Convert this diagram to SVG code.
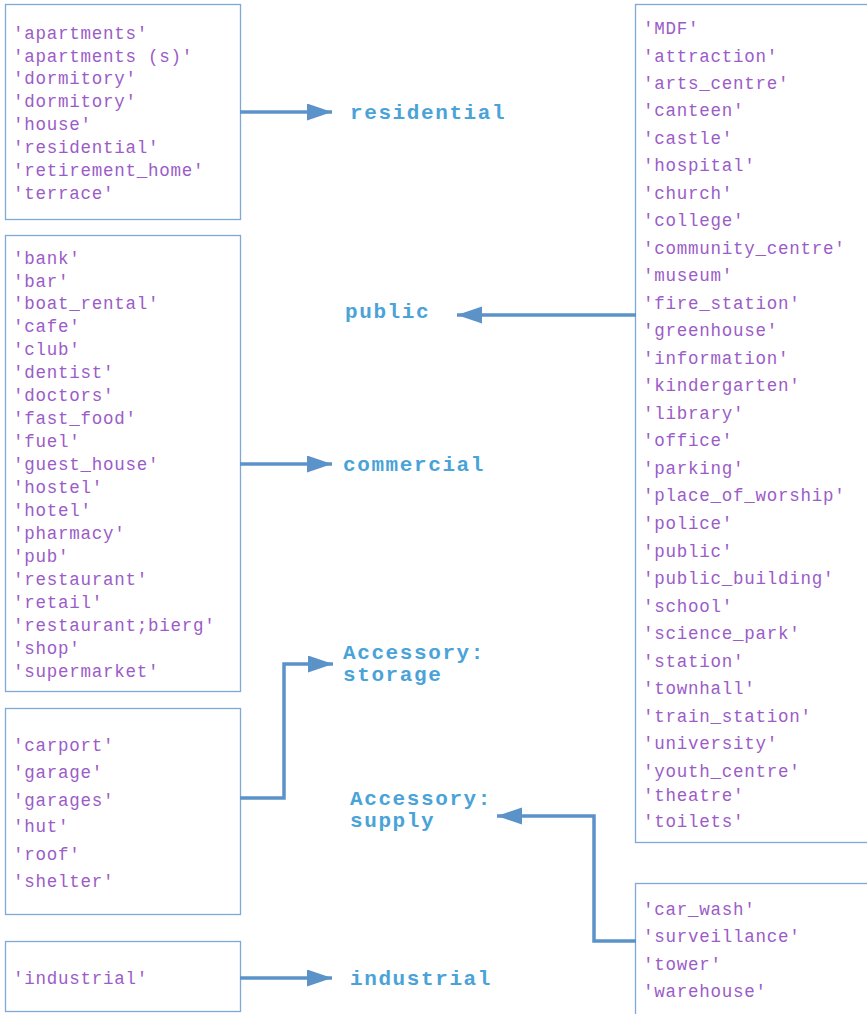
<svg xmlns="http://www.w3.org/2000/svg" width="867" height="1014" viewBox="0 0 867 1014">
<style>
.box{fill:#fff;stroke:#7ea8d6;stroke-width:1.3}
.it{font-family:"Liberation Mono","Courier New",monospace;font-size:17.5px;fill:#9b5cc8;letter-spacing:0.75px}
.lb{font-family:"Liberation Mono","Courier New",monospace;font-size:21px;font-weight:bold;fill:#4aa3d8;letter-spacing:1.6px}
.cn{fill:none;stroke:#5b93c9;stroke-width:3.5;marker-end:url(#ah)}
</style>
<defs>
<marker id="ah" markerUnits="userSpaceOnUse" markerWidth="26" markerHeight="18" refX="25" refY="8.5" orient="auto">
<path d="M0,0 L25,8.5 L0,17 z" fill="#5b93c9"/>
</marker>
</defs>
<rect width="867" height="1014" fill="#fff"/>
<g id="residential-src">
<rect class="box" x="5.5" y="4.5" width="235" height="215"/>
<text class="it" x="13">
<tspan x="13" y="39">'apartments'</tspan>
<tspan x="13" y="62">'apartments (s)'</tspan>
<tspan x="13" y="84">'dormitory'</tspan>
<tspan x="13" y="107">'dormitory'</tspan>
<tspan x="13" y="130">'house'</tspan>
<tspan x="13" y="153">'residential'</tspan>
<tspan x="13" y="176">'retirement_home'</tspan>
<tspan x="13" y="199">'terrace'</tspan>
</text>
</g>
<g id="commercial-src">
<rect class="box" x="5.5" y="235.5" width="235" height="456"/>
<text class="it">
<tspan x="13" y="264">'bank'</tspan>
<tspan x="13" y="287">'bar'</tspan>
<tspan x="13" y="309">'boat_rental'</tspan>
<tspan x="13" y="332">'cafe'</tspan>
<tspan x="13" y="355">'club'</tspan>
<tspan x="13" y="378">'dentist'</tspan>
<tspan x="13" y="401">'doctors'</tspan>
<tspan x="13" y="424">'fast_food'</tspan>
<tspan x="13" y="447">'fuel'</tspan>
<tspan x="13" y="470">'guest_house'</tspan>
<tspan x="13" y="493">'hostel'</tspan>
<tspan x="13" y="516">'hotel'</tspan>
<tspan x="13" y="539">'pharmacy'</tspan>
<tspan x="13" y="562">'pub'</tspan>
<tspan x="13" y="585">'restaurant'</tspan>
<tspan x="13" y="608">'retail'</tspan>
<tspan x="13" y="631">'restaurant;bierg'</tspan>
<tspan x="13" y="654">'shop'</tspan>
<tspan x="13" y="677">'supermarket'</tspan>
</text>
</g>
<g id="storage-src">
<rect class="box" x="5.5" y="708.5" width="235" height="206"/>
<text class="it">
<tspan x="13" y="751">'carport'</tspan>
<tspan x="13" y="778">'garage'</tspan>
<tspan x="13" y="806">'garages'</tspan>
<tspan x="13" y="832">'hut'</tspan>
<tspan x="13" y="860">'roof'</tspan>
<tspan x="13" y="887">'shelter'</tspan>
</text>
</g>
<g id="industrial-src">
<rect class="box" x="5.5" y="941.5" width="235" height="70"/>
<text class="it" x="13" y="984">'industrial'</text>
</g>
<g id="public-src">
<rect class="box" x="635.5" y="4.5" width="240" height="838"/>
<text class="it">
<tspan x="643" y="34">'MDF'</tspan>
<tspan x="643" y="62">'attraction'</tspan>
<tspan x="643" y="89">'arts_centre'</tspan>
<tspan x="643" y="116">'canteen'</tspan>
<tspan x="643" y="144">'castle'</tspan>
<tspan x="643" y="171">'hospital'</tspan>
<tspan x="643" y="199">'church'</tspan>
<tspan x="643" y="226">'college'</tspan>
<tspan x="643" y="254">'community_centre'</tspan>
<tspan x="643" y="281">'museum'</tspan>
<tspan x="643" y="309">'fire_station'</tspan>
<tspan x="643" y="336">'greenhouse'</tspan>
<tspan x="643" y="364">'information'</tspan>
<tspan x="643" y="391">'kindergarten'</tspan>
<tspan x="643" y="419">'library'</tspan>
<tspan x="643" y="446">'office'</tspan>
<tspan x="643" y="474">'parking'</tspan>
<tspan x="643" y="501">'place_of_worship'</tspan>
<tspan x="643" y="529">'police'</tspan>
<tspan x="643" y="557">'public'</tspan>
<tspan x="643" y="584">'public_building'</tspan>
<tspan x="643" y="612">'school'</tspan>
<tspan x="643" y="639">'science_park'</tspan>
<tspan x="643" y="667">'station'</tspan>
<tspan x="643" y="694">'townhall'</tspan>
<tspan x="643" y="722">'train_station'</tspan>
<tspan x="643" y="749">'university'</tspan>
<tspan x="643" y="777">'youth_centre'</tspan>
<tspan x="643" y="801">'theatre'</tspan>
<tspan x="643" y="827">'toilets'</tspan>
</text>
</g>
<g id="supply-src">
<rect class="box" x="635.5" y="883.5" width="240" height="140"/>
<text class="it">
<tspan x="643" y="915">'car_wash'</tspan>
<tspan x="643" y="942">'surveillance'</tspan>
<tspan x="643" y="970">'tower'</tspan>
<tspan x="643" y="997">'warehouse'</tspan>
</text>
</g>
<g id="label-residential"><text class="lb" x="350" y="119">residential</text></g>
<g id="label-public"><text class="lb" x="345" y="318">public</text></g>
<g id="label-commercial"><text class="lb" x="343" y="471">commercial</text></g>
<g id="label-storage"><text class="lb"><tspan x="343" y="659">Accessory:</tspan><tspan x="343" y="681">storage</tspan></text></g>
<g id="label-supply"><text class="lb"><tspan x="350" y="805">Accessory:</tspan><tspan x="350" y="827">supply</tspan></text></g>
<g id="label-industrial"><text class="lb" x="350" y="985">industrial</text></g>
<g id="connectors">
<path class="cn" d="M240,112 H332"/>
<path class="cn" d="M636,315 H457"/>
<path class="cn" d="M240,464 H332"/>
<path class="cn" d="M240,798 H284 V664 H333"/>
<path class="cn" d="M636,941 H594 V816 H497"/>
<path class="cn" d="M240,978 H332"/>
</g>
</svg>
